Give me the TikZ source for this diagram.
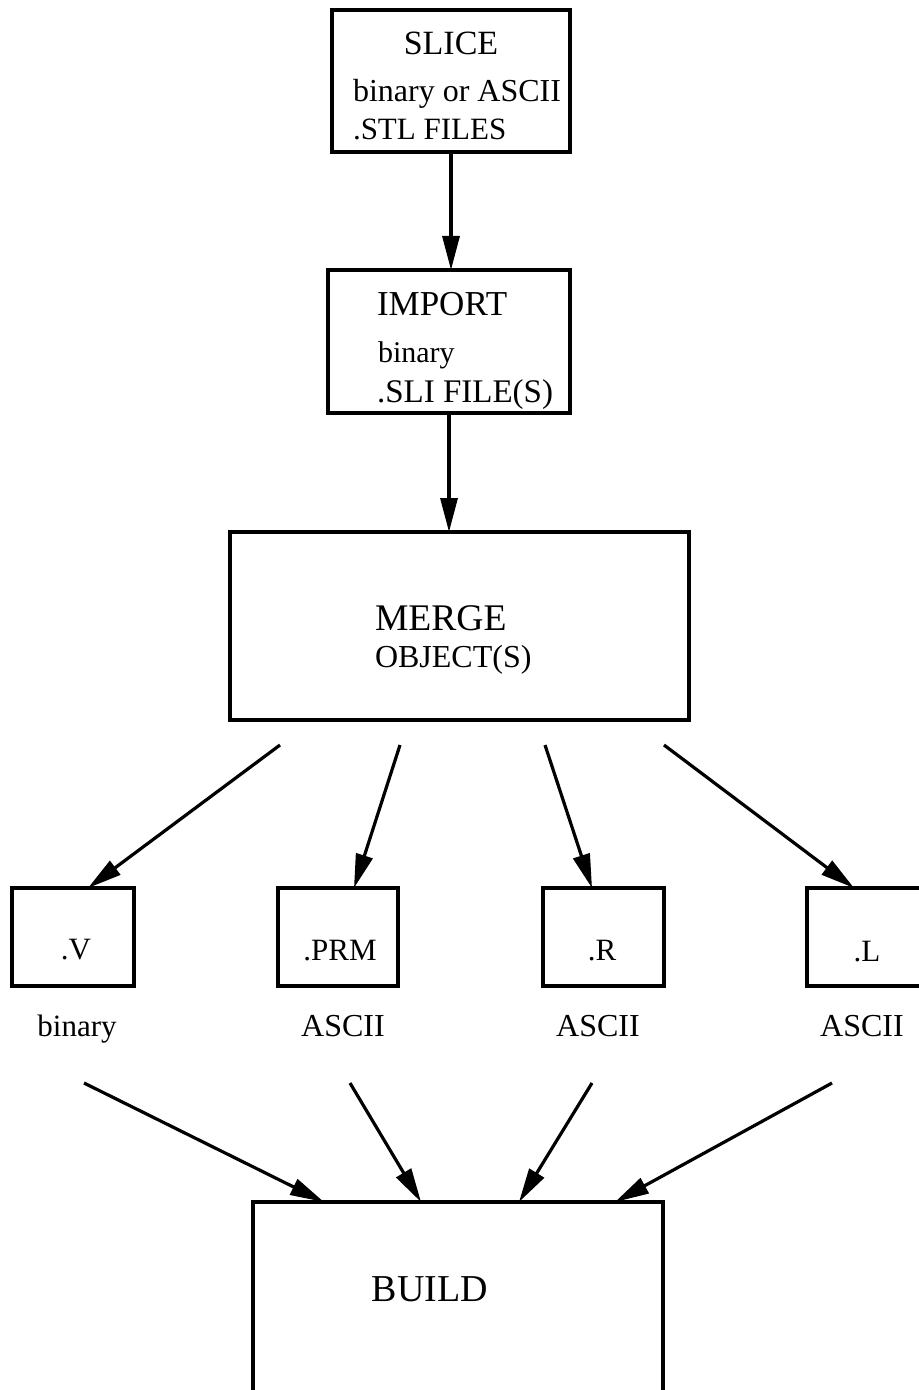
\documentclass[tikz,border=0pt]{standalone}
\usepackage{fontspec}
\setmainfont{Liberation Serif}
\usetikzlibrary{arrows.meta}
\begin{document}
\begin{tikzpicture}[x=0.5pt,y=-0.5pt,
  box/.style={draw, line width=1.6pt, inner sep=0pt, outer sep=0pt},
  lbl/.style={inner sep=0pt, outer sep=0pt},
  conn/.style={line width=1.6pt, -{Triangle[length=17pt,width=8.5pt]}}]
\useasboundingbox (0,0) rectangle (919,1390);
\clip (0,0) rectangle (919,1390);

% boxes
\node[box, minimum width=119pt, minimum height=71pt] (slice) at (451,81) {};
\node[box, minimum width=121pt, minimum height=71.5pt] (import) at (449,341.5) {};
\node[box, minimum width=229.5pt, minimum height=94pt] (merge) at (459.5,626) {};
\node[box, minimum width=61pt, minimum height=49pt] (v) at (73,937) {};
\node[box, minimum width=60pt, minimum height=49pt] (prm) at (338,937) {};
\node[box, minimum width=60.5pt, minimum height=49pt] (r) at (603.5,937) {};
\node[box, minimum width=60.5pt, minimum height=49pt] (l) at (867.5,937) {};
\node[box, minimum width=205pt, minimum height=109pt] (build) at (458,1311) {};

% texts
\node[lbl, anchor=base, font=\fontsize{17}{17}\selectfont] (sliceT) at (451,55) {SLICE};
\node[lbl, anchor=base west, font=\fontsize{16}{16}\selectfont] (sliceA) at (353,102) {binary or ASCII};
\node[lbl, anchor=base west, font=\fontsize{15.5}{15.5}\selectfont] (sliceB) at (353,140) {.STL FILES};

\node[lbl, anchor=base west, font=\fontsize{17.5}{17.5}\selectfont] (importT) at (377,315) {IMPORT};
\node[lbl, anchor=base west, font=\fontsize{15}{15}\selectfont] (importA) at (378,362) {binary};
\node[lbl, anchor=base west, font=\fontsize{16.5}{16.5}\selectfont] (importB) at (377,402) {.SLI FILE(S)};

\node[lbl, anchor=base west, font=\fontsize{18.8}{18.8}\selectfont] (mergeT) at (375,630) {MERGE};
\node[lbl, anchor=base west, font=\fontsize{16}{16}\selectfont] (mergeA) at (375,667) {OBJECT(S)};

\node[lbl, anchor=base, font=\fontsize{15.5}{15.5}\selectfont] (vT) at (76,959) {.V};
\node[lbl, anchor=base, font=\fontsize{15.5}{15.5}\selectfont] (prmT) at (340,960) {.PRM};
\node[lbl, anchor=base, font=\fontsize{15.5}{15.5}\selectfont] (rT) at (602,960) {.R};
\node[lbl, anchor=base, font=\fontsize{15.5}{15.5}\selectfont] (lT) at (867,961) {.L};

\node[lbl, anchor=base, font=\fontsize{15.5}{15.5}\selectfont] (vL) at (77,1036) {binary};
\node[lbl, anchor=base, font=\fontsize{16}{16}\selectfont] (prmL) at (343,1036) {ASCII};
\node[lbl, anchor=base, font=\fontsize{16}{16}\selectfont] (rL) at (598,1036) {ASCII};
\node[lbl, anchor=base, font=\fontsize{16}{16}\selectfont] (lL) at (862,1036) {ASCII};

\node[lbl, anchor=base, font=\fontsize{19}{19}\selectfont] (buildT) at (430,1301) {BUILD};

% connectors
\draw[conn] (slice.south) -- (slice.south |- import.north);
\draw[conn] (import.south) -- (import.south |- merge.north);

\coordinate (m1) at (280,745);
\coordinate (m2) at (400,745);
\coordinate (m3) at (545,745);
\coordinate (m4) at (664,745);
\draw[conn] (m1) -- ([xshift=7.5pt]v.north);
\draw[conn] (m2) -- ([xshift=8pt]prm.north);
\draw[conn] (m3) -- ([xshift=-5.75pt]r.north);
\draw[conn] (m4) -- ([xshift=-6.75pt]l.north);

\coordinate (b1) at (84,1083);
\coordinate (b2) at (350,1083);
\coordinate (b3) at (592,1083);
\coordinate (b4) at (832,1083);
\draw[conn] (b1) -- ([xshift=-67pt]build.north);
\draw[conn] (b2) -- ([xshift=-18.5pt]build.north);
\draw[conn] (b3) -- ([xshift=30.5pt]build.north);
\draw[conn] (b4) -- ([xshift=78.5pt]build.north);
\end{tikzpicture}
\end{document}
